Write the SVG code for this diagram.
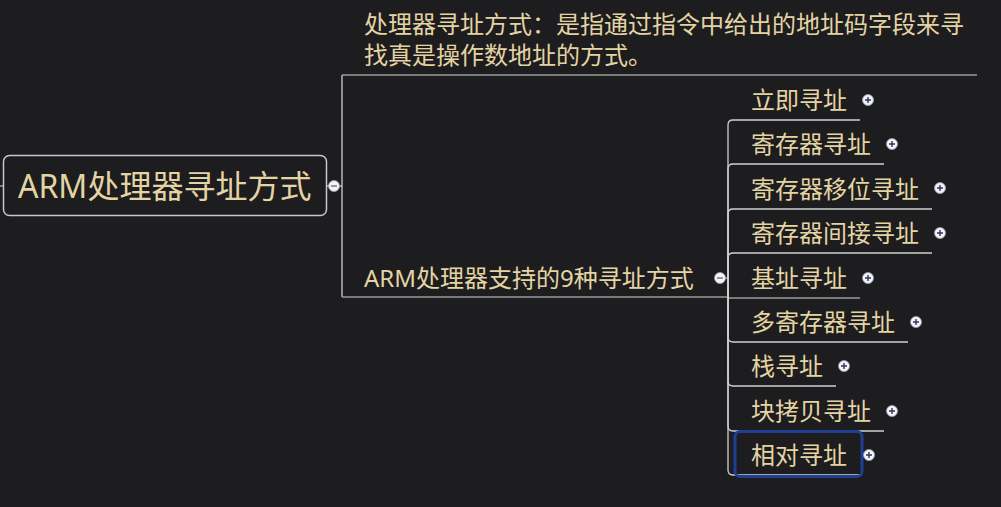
<svg xmlns="http://www.w3.org/2000/svg" width="1001" height="507" viewBox="0 0 1001 507">
<defs>
<style>
.t{font-family:"Noto Sans","Noto Sans CJK SC",sans-serif;fill:#e4d4a4;dominant-baseline:central}
.s{font-size:24px}
.ln{fill:none;stroke:#cfcfcf;stroke-width:1.3}
.lg{fill:none;stroke:#9a9a9a;stroke-width:1.5}
.pc{fill:#f4f4f6;stroke:#9aa0b0;stroke-width:0.8}
.pl{stroke:#2a3560;stroke-width:1.4}
</style>
<g id="plus"><circle class="pc" r="5.5"/><path class="pl" d="M-3,0H3M0,-3V3"/></g>
<g id="minus"><circle class="pc" r="5.5"/><path class="pl" d="M-3,0H3" style="stroke:#6a6f80"/></g>
</defs>
<rect width="1001" height="507" fill="#1d1d1f"/>
<g id="connectors">
<path class="lg" d="M0,186H3"/>
<path class="ln" d="M326,186H342"/>
<path class="ln" d="M342,186V75"/>
<path class="lg" d="M342,75H977"/>
<path class="ln" d="M342,186V297"/>
<path class="lg" d="M342,297H727"/>
<path class="ln" d="M720,278H728"/>
<path class="ln" d="M728,278V125Q728,120 733,120H860"/>
<path class="ln" d="M728,278V169Q728,164 733,164H884"/>
<path class="ln" d="M728,278V214Q728,209 733,209H932"/>
<path class="ln" d="M728,278V258Q728,253 733,253H932"/>
<path class="lg" d="M728,278V298H860"/>
<path class="ln" d="M728,278V337Q728,342 733,342H908"/>
<path class="ln" d="M728,278V381Q728,386 733,386H836"/>
<path class="ln" d="M728,278V426Q728,431 733,431H884"/>
<path class="ln" d="M728,278V470Q728,475 733,475H862"/>
</g>
<g id="root">
<rect x="3.5" y="155.5" width="323" height="60" rx="6" fill="#1d1d1f" stroke="#c8c8c8" stroke-width="1.5"/>
<text class="t" x="18" y="185" style="font-size:32px">ARM处理器寻址方式</text>
<use href="#minus" x="334" y="186"/>
</g>
<g id="definition">
<text class="t s" x="364" y="23">处理器寻址方式：是指通过指令中给出的地址码字段来寻</text>
<text class="t s" x="364" y="54">找真是操作数地址的方式。</text>
</g>
<g id="branch9">
<text class="t s" x="364" y="277">ARM处理器支持的9种寻址方式</text>
<use href="#minus" x="720" y="278"/>
</g>
<g id="c1"><text class="t s" x="751" y="99">立即寻址</text><use href="#plus" x="868" y="100"/></g>
<g id="c2"><text class="t s" x="751" y="143">寄存器寻址</text><use href="#plus" x="892" y="144"/></g>
<g id="c3"><text class="t s" x="751" y="188">寄存器移位寻址</text><use href="#plus" x="940" y="188"/></g>
<g id="c4"><text class="t s" x="751" y="232">寄存器间接寻址</text><use href="#plus" x="940" y="233"/></g>
<g id="c5"><text class="t s" x="751" y="277">基址寻址</text><use href="#plus" x="868" y="278"/></g>
<g id="c6"><text class="t s" x="751" y="321">多寄存器寻址</text><use href="#plus" x="916" y="322"/></g>
<g id="c7"><text class="t s" x="751" y="365">栈寻址</text><use href="#plus" x="844" y="366"/></g>
<g id="c8"><text class="t s" x="751" y="410">块拷贝寻址</text><use href="#plus" x="892" y="411"/></g>
<g id="c9">
<rect x="735" y="431.5" width="127" height="45" rx="5" fill="none" stroke="#1f3f94" stroke-width="3"/>
<text class="t s" x="751" y="454">相对寻址</text><use href="#plus" x="869" y="455"/>
</g>
</svg>
